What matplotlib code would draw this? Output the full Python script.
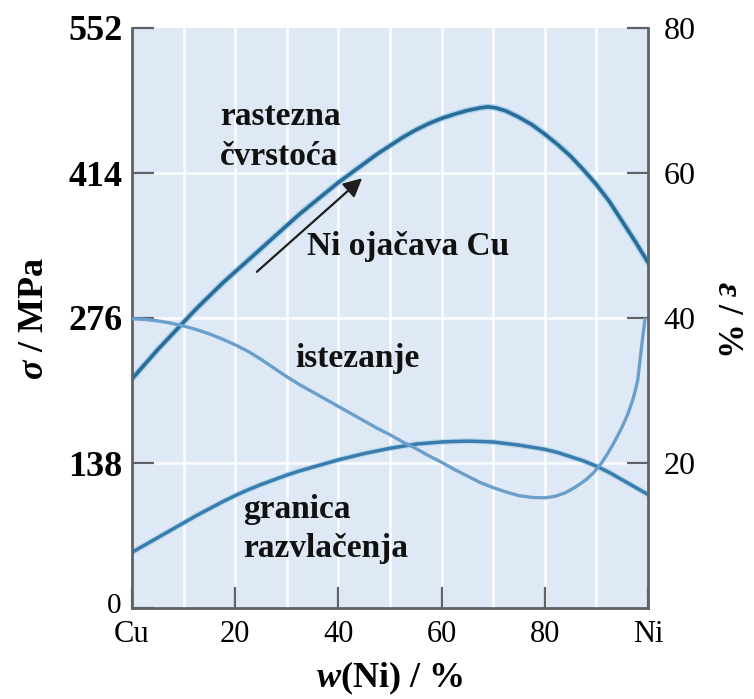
import numpy as np
import matplotlib
matplotlib.use('Agg')
import matplotlib.pyplot as plt

matplotlib.rc('font', family='Liberation Serif')
matplotlib.rcParams['mathtext.fontset'] = 'custom'
matplotlib.rcParams['mathtext.it'] = 'Liberation Serif:italic:bold'
matplotlib.rcParams['mathtext.rm'] = 'Liberation Serif:bold'
matplotlib.rcParams['mathtext.bf'] = 'Liberation Serif:bold'

# Cu-Ni alloys: mechanical properties vs. nickel content
ni = [0, 2.5, 5, 7.5, 10, 12.5, 15, 17.5, 20, 22.5, 25, 27.5, 30, 32.5, 35,
      37.5, 40, 42.5, 45, 47.5, 50, 52.5, 55, 57.5, 60, 62.5, 65, 67.5, 69,
      70.5, 72.5, 75, 77.5, 80, 82.5, 85, 87.5, 90, 92.5, 95, 97.5, 100]
tensile = [218, 232, 246, 259, 272, 285, 297, 309, 320, 331, 342, 353, 364,
           375, 385, 395, 405, 414, 423, 432, 440, 448, 455, 461, 466, 470,
           473.5, 476, 477, 476, 473, 467, 460, 451, 441, 430, 417, 403, 387,
           368, 349, 329]

ni_y = [0, 2.5, 5, 7.5, 10, 12.5, 15, 17.5, 20, 22.5, 25, 27.5, 30, 32.5, 35,
        37.5, 40, 42.5, 45, 47.5, 50, 52.5, 55, 57.5, 60, 62.5, 65, 67.5, 70,
        72.5, 75, 77.5, 80, 82.5, 85, 87.5, 90, 92.5, 95, 97.5, 100]
yield_str = [53, 60, 67, 74, 81, 88, 94.5, 101, 107, 112.5, 117.5, 122,
             126.5, 130.5, 134, 137.5, 141, 144, 147, 149.5, 152, 154, 156,
             157, 158, 158.5, 158.8, 158.5, 158, 156.5, 155, 153, 151, 148,
             144, 140, 135, 129, 122, 115, 108]

ni_e = [0, 2.5, 5, 7.5, 10, 12.5, 15, 17.5, 20, 22.5, 25, 27.5, 30, 32.5, 35,
        37.5, 40, 42.5, 45, 47.5, 50, 52.5, 55, 57.5, 60, 62.5, 65, 67.5, 70,
        72.5, 75, 77.5, 80, 82, 84, 86, 88, 89.5, 91, 92, 93, 94, 95, 96, 97,
        97.5, 98, 98.5, 99, 99.4]
elong = [39.9, 39.8, 39.6, 39.3, 38.9, 38.4, 37.8, 37.1, 36.3, 35.4, 34.3,
         33.1, 31.9, 30.8, 29.8, 28.8, 27.8, 26.8, 25.8, 24.8, 23.9, 22.9,
         22.0, 21.0, 20.1, 19.1, 18.2, 17.3, 16.6, 16.0, 15.5, 15.25, 15.2,
         15.4, 15.9, 16.7, 17.7, 18.7, 20.0, 21.1, 22.3, 23.6, 25.0, 26.6,
         28.6, 29.9, 31.4, 34.5, 37.5, 39.8]

sigma_ticks = [0, 138, 276, 414, 552]
sigma_labels = ['', '138', '276', '414', '552']
x_ticks = [0, 20, 40, 60, 80, 100]
x_labels = ['Cu', '20', '40', '60', '80', 'Ni']
eps_ticks = [20, 40, 60, 80]

spine_c = '#5f6266'

fig = plt.figure(figsize=(7.54, 6.99), dpi=100)
ax = fig.add_axes([132 / 754, 91 / 699, 516 / 754, 580 / 699])
ax.set_facecolor('#dfe9f5')
ax.set_xlim(0, 100)
ax.set_ylim(0, 552)

# white grid
for gx in range(10, 100, 10):
    ax.axvline(gx, color='white', lw=1.8, alpha=0.9, zorder=0.5)
for gy in [138, 276, 414]:
    ax.axhline(gy, color='white', lw=1.8, alpha=0.9, zorder=0.5)

ax.spines['top'].set_visible(False)
ax.spines['right'].set_visible(False)
for s in ['left', 'bottom']:
    ax.spines[s].set_color(spine_c)
    ax.spines[s].set_linewidth(2)

ax.set_xticks(x_ticks)
ax.set_xticklabels(x_labels)
ax.set_yticks(sigma_ticks)
ax.set_yticklabels(sigma_labels, fontweight='bold')
ax.tick_params(axis='x', direction='in', length=15, width=1.6, color=spine_c,
               labelsize=22, pad=9)
ax.tick_params(axis='y', direction='in', length=16, width=1.6, color=spine_c,
               labelsize=26, pad=7)
# the zero of the stress scale sits just above the Cu label
ax.annotate('0', xy=(0, 0), xycoords=('axes fraction', 'data'),
            xytext=(-8, 1.5), textcoords='offset points',
            ha='right', va='center', fontsize=21)

ax.set_xlabel('$w$(Ni) / %', fontsize=26, fontweight='bold', labelpad=7)
ax.set_ylabel(r'$\sigma$ / MPa', fontsize=26, fontweight='bold', labelpad=12)

# strength curves (MPa)
ax.plot(ni, tensile, color='#8cc8e4', lw=4.6, alpha=0.7)
ax.plot(ni, tensile, color='#2a6c97', lw=2.6)
ax.plot(ni_y, yield_str, color='#9fcde6', lw=4.2, alpha=0.6)
ax.plot(ni_y, yield_str, color='#3a7cad', lw=2.5)

ax.annotate('', xy=(44.6, 409), xytext=(24.2, 320),
            arrowprops=dict(arrowstyle='-|>', color='#1e1e1e', lw=1.6,
                            mutation_scale=28, shrinkA=0, shrinkB=0))

txt = dict(fontsize=24, fontweight='bold', color='#111111')
ax.text(17.1, 460, 'rastezna', **txt)
ax.text(17.1, 422, 'čvrstoća', **txt)
ax.text(33.9, 336, 'Ni ojačava Cu', **txt)
ax.text(31.6, 229, 'istezanje', **txt)
ax.text(21.5, 86, 'granica', **txt)
ax.text(21.5, 48.5, 'razvlačenja', **txt)

# elongation on the right-hand axis (%)
ax2 = ax.twinx()
ax2.set_ylim(0, 80)
ax2.patch.set_visible(False)
for s in ['top', 'left', 'bottom']:
    ax2.spines[s].set_visible(False)
ax2.spines['right'].set_color(spine_c)
ax2.spines['right'].set_linewidth(2)
ax2.set_yticks(eps_ticks)
ax2.tick_params(axis='y', direction='in', length=15, width=1.6, color=spine_c,
                labelsize=23, pad=11)
ax2.plot(ni_e, elong, color='#6b9fcb', lw=2.4)
ax2.set_ylabel(r'$\varepsilon$ / %', fontsize=25, fontweight='bold',
               rotation=-90, labelpad=34)

fig.savefig('out.png', dpi=100)
